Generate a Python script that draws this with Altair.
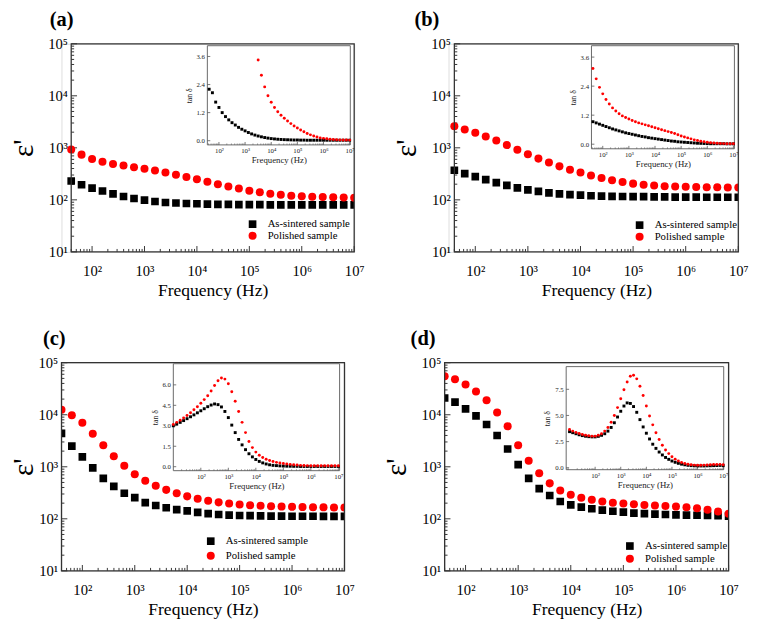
import altair as alt
import pandas as pd

FONT = "Liberation Serif"
SERIES = ["As-sintered sample", "Polished sample"]
COLORS = ["#000000", "#ff0000"]
SHAPES = ["square", "circle"]
H = 214

# frequencies of the main plots (Hz)
F_MAIN = [40, 63, 100, 158, 251, 398, 631, 1000, 1585, 2512, 3981, 6310, 10000,
          15849, 25119, 39811, 63096, 100000, 158489, 251189, 398107, 630957,
          1000000, 1584893, 2511886, 3981072, 6309573, 10000000]
# frequencies of the inset plots (Hz)
F_INSET = [10, 13.3, 17.8, 23.7, 31.6, 42.2, 56.2, 75.0, 100, 133, 178, 237, 316, 422,
           562, 750, 1000, 1334, 1778, 2371, 3162, 4217, 5623, 7499, 10000, 13335,
           17783, 23714, 31623, 42170, 56234, 74989, 100000, 133352, 177828, 237137,
           316228, 421697, 562341, 749894, 1000000, 1333521, 1778279, 2371374,
           3162278, 4216965, 5623413, 7498942, 10000000]

# permittivity
EPS_A_S = [230, 195, 168, 148, 130, 116, 106, 99, 93, 89, 87, 85, 84, 83, 82, 82, 81, 81,
           81, 80, 80, 80, 80, 80, 80, 80, 80, 80]
EPS_A_P = [930, 740, 610, 540, 490, 455, 425, 395, 365, 335, 305, 275, 248, 222, 200, 180,
           165, 150, 140, 131, 125, 120, 117, 115, 113, 112, 111, 110]
EPS_B_S = [370, 320, 280, 245, 215, 190, 170, 155, 145, 136, 130, 126, 123, 120, 118, 117,
           116, 115, 115, 114, 114, 113, 113, 113, 112, 112, 112, 112]
EPS_B_P = [2600, 2250, 1950, 1650, 1380, 1130, 920, 750, 620, 520, 440, 380, 335, 295, 262,
           238, 220, 205, 195, 188, 183, 180, 178, 176, 175, 174, 173, 172]
EPS_C_S = [4400, 2500, 1550, 950, 600, 420, 310, 255, 205, 180, 163, 150, 142, 133, 126, 121,
           118, 116, 115, 114, 113, 113, 112, 112, 112, 111, 111, 111]
EPS_C_P = [12500, 9800, 7000, 4300, 2600, 1600, 1050, 720, 540, 430, 360, 310, 270, 242, 222,
           207, 196, 188, 182, 178, 175, 172, 170, 168, 167, 166, 165, 165]
EPS_D_S = [21000, 17500, 13000, 9500, 6500, 4000, 2200, 1100, 600, 380, 280, 215, 185, 168,
           156, 147, 140, 134, 129, 126, 123, 121, 119, 118, 117, 116, 115, 113]
EPS_D_P = [55000, 48000, 38000, 28000, 19000, 11000, 6000, 2600, 1300, 750, 480, 350, 290, 255,
           232, 216, 204, 196, 190, 185, 180, 176, 172, 167, 160, 150, 138, 125]

# loss tangent (insets)
TAN_A_S = [2.2, 2.05, 1.65, 1.42, 1.2, 1.03, 0.89, 0.77, 0.67, 0.57, 0.49, 0.42, 0.35, 0.29,
           0.24, 0.2, 0.165, 0.135, 0.11, 0.09, 0.075, 0.062, 0.052, 0.045, 0.04, 0.035, 0.03,
           0.03, 0.025, 0.025, 0.02, 0.02, 0.02, 0.02, 0.02, 0.02, 0.02, 0.02, 0.02, 0.02,
           0.02, 0.02, 0.02, 0.02]
TAN_A_P = [3.45, 2.8, 2.3, 1.92, 1.64, 1.42, 1.24, 1.09, 0.96, 0.84, 0.73, 0.63, 0.54, 0.46,
           0.38, 0.31, 0.25, 0.2, 0.16, 0.12, 0.1, 0.08, 0.06, 0.05, 0.04, 0.035, 0.03, 0.03,
           0.025]
TAN_B_S = [0.93, 0.88, 0.83, 0.78, 0.73, 0.68, 0.63, 0.59, 0.55, 0.51, 0.47, 0.44, 0.41, 0.38,
           0.35, 0.32, 0.3, 0.27, 0.25, 0.23, 0.21, 0.19, 0.17, 0.15, 0.13, 0.12, 0.1, 0.09,
           0.08, 0.07, 0.06, 0.05, 0.04, 0.035, 0.03, 0.025, 0.02, 0.02, 0.02, 0.02, 0.02,
           0.015, 0.015, 0.015]
TAN_B_P = [3.13, 2.7, 2.35, 2.08, 1.85, 1.66, 1.5, 1.37, 1.26, 1.17, 1.1, 1.04, 0.98, 0.93,
           0.88, 0.84, 0.8, 0.76, 0.72, 0.68, 0.64, 0.6, 0.56, 0.52, 0.48, 0.44, 0.39, 0.34,
           0.3, 0.26, 0.22, 0.18, 0.15, 0.12, 0.1, 0.08, 0.06, 0.05, 0.04, 0.03, 0.025, 0.02,
           0.02, 0.02]
TAN_C_S = [3.0, 3.12, 3.25, 3.38, 3.52, 3.66, 3.8, 3.95, 4.1, 4.25, 4.4, 4.52, 4.6, 4.55,
           4.38, 4.05, 3.6, 3.05, 2.5, 2.0, 1.6, 1.25, 0.95, 0.72, 0.53, 0.39, 0.28, 0.2, 0.14,
           0.1, 0.08, 0.06, 0.05, 0.04, 0.035, 0.03, 0.03, 0.02, 0.02, 0.02, 0.02, 0.02, 0.02,
           0.02, 0.02, 0.02, 0.02, 0.02, 0.02]
TAN_C_P = [3.1, 3.25, 3.4, 3.57, 3.75, 3.95, 4.17, 4.4, 4.65, 4.92, 5.2, 5.55, 5.95, 6.3, 6.5,
           6.42, 6.08, 5.5, 4.8, 4.05, 3.25, 2.5, 1.85, 1.4, 1.07, 0.84, 0.67, 0.55, 0.46,
           0.38, 0.32, 0.27, 0.23, 0.2, 0.17, 0.14, 0.12, 0.1, 0.09, 0.08, 0.07, 0.07, 0.07,
           0.07, 0.07, 0.07, 0.07, 0.07, 0.07]
TAN_D_S = [3.45, 3.35, 3.25, 3.15, 3.07, 3.01, 2.97, 2.95, 2.95, 3.0, 3.1, 3.25, 3.5, 3.85,
           4.3, 4.85, 5.4, 5.9, 6.2, 6.15, 5.85, 5.3, 4.6, 3.9, 3.3, 2.75, 2.25, 1.85, 1.5,
           1.22, 0.98, 0.8, 0.64, 0.52, 0.42, 0.34, 0.28, 0.23, 0.2, 0.18, 0.17, 0.17, 0.17,
           0.18, 0.19, 0.2, 0.21, 0.22, 0.2]
TAN_D_P = [3.65, 3.5, 3.38, 3.27, 3.18, 3.1, 3.05, 3.02, 3.02, 3.1, 3.25, 3.5, 3.85, 4.35,
           5.0, 5.75, 6.6, 7.45, 8.2, 8.75, 8.85, 8.5, 7.8, 6.9, 5.9, 4.95, 4.1, 3.35, 2.7,
           2.15, 1.7, 1.35, 1.05, 0.82, 0.64, 0.5, 0.4, 0.33, 0.28, 0.25, 0.24, 0.24, 0.25,
           0.26, 0.28, 0.3, 0.31, 0.32, 0.28]

DECADES_X = [100, 1000, 10000, 100000, 1000000, 10000000]
DECADES_Y = [10, 100, 1000, 10000, 100000]
MINOR_STEPS = [2, 3, 4, 5, 6, 7, 8, 9]
MINOR_X = [m * d for d in [10, 100, 1000, 10000, 100000, 1000000] for m in MINOR_STEPS if m * d >= 40]
MINOR_Y = [m * d for d in [10, 100, 1000, 10000] for m in MINOR_STEPS]
MINOR_XI = [m * d for d in [1, 10, 100, 1000, 10000, 100000, 1000000] for m in MINOR_STEPS]

SUP = ("'10' + ['\u2070','\u00b9','\u00b2','\u00b3','\u2074','\u2075','\u2076','\u2077']"
       "[round(log(datum.value) / LN10)]")

# x0 / width: plot frame inside each panel's view (panels in a column share their origin)
PANELS = [
    dict(label="(a)", dx=-12, x0=10, width=301, eps=(EPS_A_S, EPS_A_P),
         tan_s=(5, TAN_A_S), tan_p=(20, TAN_A_P),
         in_x=[36, 1.06e7], in_y=[-0.18, 4.06], in_ticks=[0, 1.2, 2.4, 3.6],
         box=(150, 297, 2, 104), leg=(191, 180), rowpad=0, tpad=10),
    dict(label="(b)", dx=-35, x0=6, width=298, eps=(EPS_B_S, EPS_B_P),
         tan_s=(5, TAN_B_S), tan_p=(5, TAN_B_P),
         in_x=[37, 1.09e7], in_y=[-0.19, 4.07], in_ticks=[0, 1.2, 2.4, 3.6],
         box=(147, 294, 2, 108), leg=(191, 181), rowpad=0, tpad=10),
    dict(label="(c)", dx=-19, x0=0, width=291, eps=(EPS_C_S, EPS_C_P),
         tan_s=(0, TAN_C_S), tan_p=(0, TAN_C_P),
         in_x=[10, 1.11e7], in_y=[-0.29, 7.55], in_ticks=[0, 1.5, 3, 4.5, 6],
         box=(115, 286, 1, 111), leg=(148, 178), rowpad=3, tpad=0),
    dict(label="(d)", dx=-35, x0=0, width=292, eps=(EPS_D_S, EPS_D_P),
         tan_s=(0, TAN_D_S), tan_p=(0, TAN_D_P),
         in_x=[7.4, 1.05e7], in_y=[-0.19, 9.67], in_ticks=[0, 2.5, 5, 7.5],
         box=(125, 287, 4, 110), leg=(185, 183), rowpad=1, tpad=10),
]


def series_df(xs_list, names_vals, ycol):
    rows = []
    for name, (off, vals) in names_vals:
        for f, v in zip(xs_list[off:], vals):
            rows.append({"f": f, ycol: v, "series": name})
    return pd.DataFrame(rows)


def vals_df(vals):
    return pd.DataFrame({"v": vals})


def panel(cfg):
    x0, wp = cfg["x0"], cfg["width"]
    color_scale = alt.Scale(domain=SERIES, range=COLORS)
    shape_scale = alt.Scale(domain=SERIES, range=SHAPES)
    leg = alt.Legend(title=None, orient="none", legendX=cfg["leg"][0], legendY=cfg["leg"][1],
                     labelFont=FONT, labelFontSize=11, labelColor="black", symbolSize=60,
                     symbolStrokeWidth=0, rowPadding=cfg["rowpad"], labelOffset=10, padding=0)

    # ---------- main plot ----------
    xs = alt.Scale(type="log", domain=[40, 1e7], range=[x0, wp])
    ys = alt.Scale(type="log", domain=[10, 1e5])
    main_df = series_df(F_MAIN, [(SERIES[0], (0, cfg["eps"][0])), (SERIES[1], (0, cfg["eps"][1]))], "eps")
    x_axis = alt.Axis(values=DECADES_X, labelExpr=SUP, labelFont=FONT, labelFontSize=15,
                      labelColor="black", labelPadding=12, labelFlush=False, labelOverlap=False,
                      ticks=False, domain=False, grid=False, title="Frequency (Hz)",
                      titleFont=FONT, titleFontSize=18, titleFontWeight="normal",
                      titleColor="black", titlePadding=4)
    y_axis = alt.Axis(values=DECADES_Y, labelExpr=SUP, labelFont=FONT, labelFontSize=15,
                      labelColor="black", labelPadding=4, labelFlush=False, labelOverlap=False,
                      ticks=False, domain=False, grid=False, title="\u03b5'", offset=-x0,
                      titleFont=FONT, titleFontSize=30, titleFontWeight="normal",
                      titleColor="black", titlePadding=cfg["tpad"])
    pts = alt.Chart(main_df).mark_point(filled=True, opacity=1, clip=True).encode(
        x=alt.X("f:Q", scale=xs, axis=x_axis),
        y=alt.Y("eps:Q", scale=ys, axis=y_axis),
        color=alt.Color("series:N", scale=color_scale, legend=leg),
        shape=alt.Shape("series:N", scale=shape_scale, legend=leg),
        size=alt.Size("series:N", scale=alt.Scale(domain=SERIES, range=[62, 68]), legend=None),
    )
    tick_col = "#333333"
    bx_maj = alt.Chart(vals_df(DECADES_X)).mark_rule(color=tick_col, strokeWidth=1).encode(
        x=alt.X("v:Q", scale=xs, axis=x_axis), y=alt.value(H), y2=alt.value(H - 6))
    bx_min = alt.Chart(vals_df(MINOR_X)).mark_rule(color=tick_col, strokeWidth=1).encode(
        x=alt.X("v:Q", scale=xs, axis=x_axis), y=alt.value(H), y2=alt.value(H - 3))
    ly_maj = alt.Chart(vals_df(DECADES_Y)).mark_rule(color=tick_col, strokeWidth=1).encode(
        y=alt.Y("v:Q", scale=ys, axis=y_axis), x=alt.value(x0), x2=alt.value(x0 + 6))
    ly_min = alt.Chart(vals_df(MINOR_Y)).mark_rule(color=tick_col, strokeWidth=1).encode(
        y=alt.Y("v:Q", scale=ys, axis=y_axis), x=alt.value(x0), x2=alt.value(x0 + 3))
    mframe = alt.Chart(pd.DataFrame({"k": [0]})).mark_rect(
        fill="white", fillOpacity=0, stroke="#333333", strokeWidth=1.3).encode(
        x=alt.value(x0), x2=alt.value(wp), y=alt.value(0), y2=alt.value(H))
    main = alt.layer(bx_maj, bx_min, ly_maj, ly_min, pts, mframe)

    # ---------- inset ----------
    ix0, ix1, iy0, iy1 = cfg["box"]
    ixs = alt.Scale(type="log", domain=cfg["in_x"], range=[ix0, ix1])
    iys = alt.Scale(domain=cfg["in_y"], range=[iy1, iy0], zero=False, nice=False)
    in_df = series_df(F_INSET, [(SERIES[0], cfg["tan_s"]), (SERIES[1], cfg["tan_p"])], "tan")
    ix_axis = alt.Axis(orient="bottom", offset=iy1 - H, values=DECADES_X, labelExpr=SUP,
                       labelFont=FONT, labelFontSize=7, labelColor="#222", labelPadding=2,
                       labelFlush=False, labelOverlap=False, ticks=False, domain=False,
                       grid=False, title="Frequency (Hz)", titleFont=FONT, titleFontSize=9,
                       titleFontWeight="normal", titleColor="#222", titlePadding=2)
    iy_axis = alt.Axis(orient="left", offset=-ix0, values=cfg["in_ticks"], format=".1f",
                       labelFont=FONT, labelFontSize=7, labelColor="#222", labelPadding=3,
                       labelFlush=False, labelOverlap=False, ticks=False, domain=False,
                       grid=False, title="tan \u03b4", titleFont=FONT, titleFontSize=8,
                       titleFontWeight="normal", titleColor="#222", titlePadding=3)
    frame = alt.Chart(pd.DataFrame({"k": [0]})).mark_rect(
        fill="white", stroke="#666666", strokeWidth=1).encode(
        x=alt.value(ix0), x2=alt.value(ix1), y=alt.value(iy0), y2=alt.value(iy1))
    ipts = alt.Chart(in_df).mark_point(filled=True, opacity=1, size=9).encode(
        x=alt.X("f:Q", scale=ixs, axis=ix_axis),
        y=alt.Y("tan:Q", scale=iys, axis=iy_axis),
        color=alt.Color("series:N", scale=color_scale, legend=None),
        shape=alt.Shape("series:N", scale=shape_scale, legend=None),
    )
    minor_in = [v for v in MINOR_XI if cfg["in_x"][0] <= v <= cfg["in_x"][1]]
    ibx_maj = alt.Chart(vals_df(DECADES_X)).mark_rule(color="#555", strokeWidth=0.8).encode(
        x=alt.X("v:Q", scale=ixs, axis=ix_axis), y=alt.value(iy1), y2=alt.value(iy1 - 3))
    ibx_min = alt.Chart(vals_df(minor_in)).mark_rule(color="#555", strokeWidth=0.6).encode(
        x=alt.X("v:Q", scale=ixs, axis=ix_axis), y=alt.value(iy1), y2=alt.value(iy1 - 1.5))
    ily_maj = alt.Chart(vals_df(cfg["in_ticks"])).mark_rule(color="#555", strokeWidth=0.8).encode(
        y=alt.Y("v:Q", scale=iys, axis=iy_axis), x=alt.value(ix0), x2=alt.value(ix0 + 3))
    inset = alt.layer(frame, ibx_maj, ibx_min, ily_maj, ipts)

    return alt.layer(main, inset).resolve_scale(x="independent", y="independent").properties(
        width=wp, height=H,
        title=alt.TitleParams(text=cfg["label"], anchor="start", frame="group", dx=cfg["dx"],
                              font=FONT, fontSize=21, fontWeight="bold", color="black",
                              offset=7),
    )


def indep(c):
    return c.resolve_scale(color="independent", shape="independent", size="independent").resolve_legend(
        color="independent", shape="independent")


row1 = indep(alt.hconcat(panel(PANELS[0]), panel(PANELS[1]), spacing=27))
row2 = indep(alt.hconcat(panel(PANELS[2]), panel(PANELS[3]), spacing=27))
chart = indep(alt.vconcat(row1, row2, spacing=28)).properties(
    padding={"left": 0, "top": -8, "right": 0, "bottom": 0}
).configure_view(strokeWidth=0).configure(background="white")

chart.save("out.html", embed_options={"renderer": "svg", "actions": False})
